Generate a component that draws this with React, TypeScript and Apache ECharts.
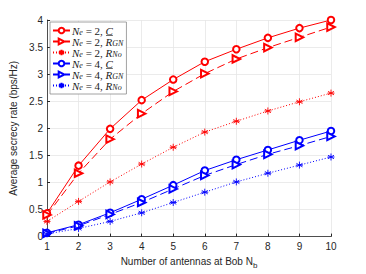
import React, { useEffect, useRef } from "react";
import * as echarts from "echarts";

const antennas = [1, 2, 3, 4, 5, 6, 7, 8, 9, 10];
const red_C = [0.43, 1.31, 1.99, 2.52, 2.9, 3.23, 3.46, 3.67, 3.85, 4.0];
const red_RGN = [0.4, 1.17, 1.8, 2.27, 2.68, 3.01, 3.28, 3.49, 3.68, 3.87];
const red_RNo = [0.28, 0.65, 1.01, 1.34, 1.65, 1.93, 2.13, 2.32, 2.49, 2.65];
const blue_C = [0.07, 0.22, 0.44, 0.69, 0.95, 1.22, 1.42, 1.6, 1.78, 1.95];
const blue_RGN = [0.06, 0.2, 0.41, 0.63, 0.88, 1.13, 1.33, 1.52, 1.68, 1.85];
const blue_RNo = [0.05, 0.15, 0.28, 0.44, 0.63, 0.82, 1.01, 1.17, 1.32, 1.47];
const yTicks = [0, 0.5, 1, 1.5, 2, 2.5, 3, 3.5, 4];

const STAR = "path://M0,-5L0,5M-4.33,-2.5L4.33,2.5M-4.33,2.5L4.33,-2.5M-5,0L5,0";
const UNDERLINE =
  "data:image/svg+xml;utf8," +
  encodeURIComponent(
    "<svg xmlns='http://www.w3.org/2000/svg' width='20' height='20' viewBox='0 0 20 20' preserveAspectRatio='none'><rect x='1' y='18.2' width='19' height='1.2' fill='#222'/></svg>"
  );

export default function App() {
  const ref = useRef<HTMLDivElement>(null);
  useEffect(() => {
    if (!ref.current) return;
    const chart = echarts.init(ref.current, undefined, { renderer: "svg" });
    const mk = (name: string, data: number[], color: string, kind: "C" | "GN" | "No") => {
      return {
        name,
        type: "line",
        data: antennas.map((x, i) => [x, data[i]]),
        color,
        lineStyle: {
          color,
          width: 1,
          type: kind === "C" ? "solid" : kind === "GN" ? [8, 4] : [1, 2],
        },
        itemStyle: { color, borderColor: color, borderWidth: 0.9 },
        symbol: kind === "C" ? "emptyCircle" : kind === "GN" ? "emptyTriangle" : STAR,
        symbolSize: kind === "C" ? 6.5 : kind === "GN" ? 7.5 : 7,
        symbolRotate: kind === "GN" ? -90 : 0,
        showAllSymbol: true,
        z: 3,
      };
    };
    const F = "Liberation Serif";
    const rich: any = {
      i: { fontFamily: F, fontStyle: "italic", fontSize: 11, color: "#222", lineHeight: 11 },
      t: { fontFamily: F, fontSize: 11, color: "#222", lineHeight: 11 },
      u: {
        fontFamily: F,
        fontStyle: "italic",
        fontSize: 11,
        color: "#222",
        lineHeight: 11,
        backgroundColor: { image: UNDERLINE },
      },
      s: { fontFamily: F, fontStyle: "italic", fontSize: 8, color: "#222", lineHeight: 5, verticalAlign: "bottom" },
    };
    const labels: Record<string, string> = {
      a: "{i|N}{s|e}{t| = 2, }{u|C}",
      b: "{i|N}{s|e}{t| = 2, }{i|R}{s|GN}",
      c: "{i|N}{s|e}{t| = 2, }{i|R}{s|No}",
      d: "{i|N}{s|e}{t| = 4, }{u|C}",
      e: "{i|N}{s|e}{t| = 4, }{i|R}{s|GN}",
      f: "{i|N}{s|e}{t| = 4, }{i|R}{s|No}",
    };
    chart.setOption({
      animation: false,
      backgroundColor: "#fff",
      grid: { left: 47, right: 35, top: 20, bottom: 31, containLabel: false },
      legend: {
        orient: "vertical",
        left: 50,
        top: 22,
        itemWidth: 17,
        itemHeight: 7,
        itemGap: 0,
        padding: [3, 3, 3, 2],
        borderColor: "#8a8a8a",
        borderWidth: 0.8,
        backgroundColor: "#fff",
        data: ["a", "b", "c", "d", "e", "f"],
        formatter: (n: string) => labels[n],
        textStyle: { rich, padding: [0, 0, 0, -3] },
      },
      xAxis: {
        type: "value",
        min: 1,
        max: 10,
        interval: 1,
        name: "Number of antennas at Bob N{s|b}",
        nameLocation: "middle",
        nameGap: 17,
        nameTextStyle: {
          fontFamily: "Liberation Sans",
          fontSize: 10,
          color: "#262626",
          rich: { s: { fontFamily: "Liberation Sans", fontSize: 8, color: "#262626", padding: [7, 0, 0, 0] } },
        },
        axisLine: { lineStyle: { color: "#262626", width: 0.8 } },
        axisTick: { inside: true, length: 3, lineStyle: { color: "#262626" } },
        axisLabel: { fontFamily: "Liberation Sans", fontSize: 10, color: "#262626", margin: 5 },
        splitLine: { show: true, lineStyle: { color: "#e6e6e6", width: 0.8 } },
      },
      yAxis: {
        type: "value",
        min: 0,
        max: 4,
        interval: 0.5,
        name: "Average secrecy rate (bps/Hz)",
        nameLocation: "middle",
        nameGap: 26,
        nameTextStyle: { fontFamily: "Liberation Sans", fontSize: 10, color: "#262626" },
        axisLine: { show: true, lineStyle: { color: "#262626", width: 0.8 } },
        axisTick: { show: true, inside: true, length: 3, lineStyle: { color: "#262626" } },
        axisLabel: {
          fontFamily: "Liberation Sans",
          fontSize: 10,
          color: "#262626",
          margin: 4,
          formatter: (v: number) => (yTicks.includes(v) ? String(v) : ""),
        },
        splitLine: { show: true, lineStyle: { color: "#e6e6e6", width: 0.8 } },
      },
      series: [
        mk("a", red_C, "#ff0000", "C"),
        mk("b", red_RGN, "#ff0000", "GN"),
        mk("c", red_RNo, "#ff0000", "No"),
        mk("d", blue_C, "#0000ff", "C"),
        mk("e", blue_RGN, "#0000ff", "GN"),
        mk("f", blue_RNo, "#0000ff", "No"),
      ],
    });
    return () => chart.dispose();
  }, []);
  return <div ref={ref} style={{ width: 366, height: 274, position: "absolute", left: 0, top: 0 }} />;
}
